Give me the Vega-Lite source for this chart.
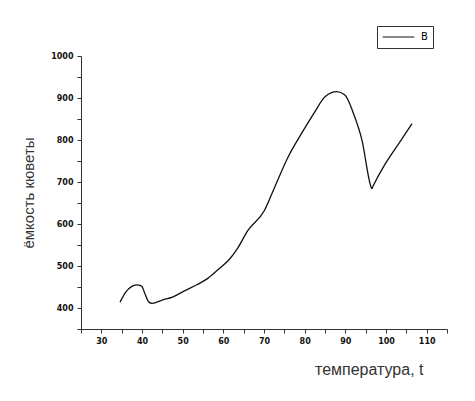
{
  "$schema": "https://vega.github.io/schema/vega-lite/v6.json",
  "width": 366,
  "height": 273,
  "autosize": {"type": "none"},
  "padding": {"left": 81, "top": 56, "right": 28, "bottom": 72},
  "background": "white",
  "config": {"view": {"stroke": null}, "font": "Liberation Sans"},
  "data": {"values": [
    {"t": 34.6, "v": 414, "s": "B"},
    {"t": 36.0, "v": 438, "s": "B"},
    {"t": 37.4, "v": 451, "s": "B"},
    {"t": 38.7, "v": 455, "s": "B"},
    {"t": 39.9, "v": 452, "s": "B"},
    {"t": 40.8, "v": 432, "s": "B"},
    {"t": 41.7, "v": 414, "s": "B"},
    {"t": 42.5, "v": 411, "s": "B"},
    {"t": 45.0, "v": 419, "s": "B"},
    {"t": 47.5, "v": 426, "s": "B"},
    {"t": 50.3, "v": 440, "s": "B"},
    {"t": 53.6, "v": 456, "s": "B"},
    {"t": 56.1, "v": 470, "s": "B"},
    {"t": 58.8, "v": 492, "s": "B"},
    {"t": 61.5, "v": 516, "s": "B"},
    {"t": 63.5, "v": 542, "s": "B"},
    {"t": 66.0, "v": 584, "s": "B"},
    {"t": 70.1, "v": 632, "s": "B"},
    {"t": 72.6, "v": 687, "s": "B"},
    {"t": 75.9, "v": 759, "s": "B"},
    {"t": 79.2, "v": 815, "s": "B"},
    {"t": 82.5, "v": 867, "s": "B"},
    {"t": 85.0, "v": 903, "s": "B"},
    {"t": 87.9, "v": 915, "s": "B"},
    {"t": 89.9, "v": 907, "s": "B"},
    {"t": 92.0, "v": 863, "s": "B"},
    {"t": 94.1, "v": 799, "s": "B"},
    {"t": 96.2, "v": 692, "s": "B"},
    {"t": 96.5, "v": 684, "s": "B"},
    {"t": 96.8, "v": 690, "s": "B"},
    {"t": 99.8, "v": 743, "s": "B"},
    {"t": 103.1, "v": 791, "s": "B"},
    {"t": 106.4, "v": 839, "s": "B"}
  ]},
  "mark": {"type": "line", "interpolate": "monotone", "strokeWidth": 1.3},
  "encoding": {
    "x": {
      "field": "t", "type": "quantitative",
      "scale": {"domain": [25, 115], "nice": false, "zero": false},
      "axis": {
        "title": "температура, t",
        "titleFont": "Liberation Sans", "titleFontSize": 16, "titleFontWeight": "normal", "titleColor": "#333",
        "titleAnchor": "end", "titlePadding": 16, "titleX": 342,
        "values": [25,30,35,40,45,50,55,60,65,70,75,80,85,90,95,100,105,110,115],
        "labelExpr": "datum.value % 10 == 0 ? datum.label : ''",
        "labelFont": "DejaVu Sans", "labelFontSize": 8, "labelFontWeight": "bold", "labelColor": "#111",
        "labelPadding": 4,
        "tickSize": 4, "tickColor": "#333", "domainColor": "#333", "grid": false
      }
    },
    "y": {
      "field": "v", "type": "quantitative",
      "scale": {"domain": [350, 1000], "nice": false, "zero": false},
      "axis": {
        "title": "ёмкость кюветы",
        "titleFont": "Liberation Sans", "titleFontSize": 15, "titleFontWeight": "normal", "titleColor": "#333",
        "titlePadding": 14,
        "format": "d",
        "values": [350,400,450,500,550,600,650,700,750,800,850,900,950,1000],
        "labelExpr": "datum.value % 100 == 0 ? datum.label : ''",
        "labelFont": "DejaVu Sans", "labelFontSize": 8, "labelFontWeight": "bold", "labelColor": "#111",
        "labelPadding": 4,
        "tickSize": 4, "tickColor": "#333", "domainColor": "#333", "grid": false
      }
    },
    "stroke": {
      "field": "s", "type": "nominal",
      "scale": {"range": ["#111"]},
      "legend": {
        "title": null, "orient": "none", "legendX": 296, "legendY": -30,
        "strokeColor": "#333", "padding": 5, "symbolType": "stroke",
        "symbolSize": 1000, "symbolStrokeWidth": 1.2, "labelFontSize": 10,
        "labelFont": "DejaVu Sans", "labelOffset": 6, "clipHeight": 12
      }
    }
  }
}
